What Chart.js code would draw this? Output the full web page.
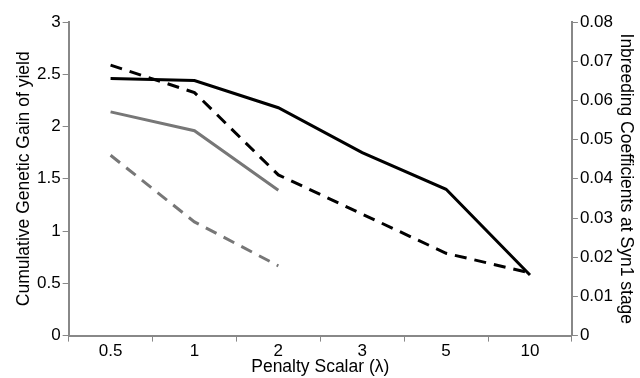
<!DOCTYPE html>
<html>
<head>
<meta charset="utf-8">
<style>
  html, body { margin: 0; padding: 0; background: #fff; }
  #wrap { width: 640px; height: 378px; }
</style>
</head>
<body>
<div id="wrap"><canvas id="myChart" width="640" height="378"></canvas></div>
<script src="https://cdn.jsdelivr.net/npm/chart.js"></script>
<script>
const categories = ['0.5', '1', '2', '3', '5', '10']
const gainBlack = [2.46, 2.44, 2.18, 1.75, 1.40, 0.58]
const inbreedBlack = [0.069, 0.062, 0.041, 0.031, 0.021, 0.016]
const gainGray = [2.14, 1.96, 1.39, null, null, null]
const inbreedGray = [0.046, 0.029, 0.0178, null, null, null]

const axisGray = '#888888'
const tickFont = {family: 'Liberation Sans', size: 17}
const titleFont = {family: 'Liberation Sans', size: 17.5}

const config = {
  type: 'line',
  data: {
    labels: categories,
    datasets: [
      {label: 'gain black', data: gainBlack, borderColor: '#000', borderWidth: 3, yAxisID: 'y'},
      {label: 'inbreeding black', data: inbreedBlack, borderColor: '#000', borderWidth: 3, borderDash: [12, 8], yAxisID: 'y1'},
      {label: 'gain gray', data: gainGray, borderColor: '#777', borderWidth: 3, yAxisID: 'y'},
      {label: 'inbreeding gray', data: inbreedGray, borderColor: '#777', borderWidth: 3, borderDash: [12, 8], yAxisID: 'y1'}
    ]
  },
  options: {
    responsive: false,
    animation: false,
    layout: {padding: {top: 22, right: 4, left: 14, bottom: 0}},
    elements: {point: {radius: 0}, line: {tension: 0}},
    plugins: {legend: {display: false}, tooltip: {enabled: false}},
    scales: {
      x: {
        offset: true,
        grid: {offset: true, drawOnChartArea: false, tickLength: 6, color: axisGray},
        border: {color: axisGray, width: 2},
        ticks: {color: '#000', font: tickFont, padding: 0},
        title: {display: true, text: 'Penalty Scalar (λ)', color: '#000', font: titleFont, padding: {top: -5, bottom: 0}}
      },
      y: {
        position: 'left',
        min: 0, max: 3,
        grid: {drawOnChartArea: false, tickLength: 6, color: axisGray},
        border: {color: axisGray, width: 2},
        ticks: {stepSize: 0.5, color: '#000', font: tickFont, padding: 2,
          callback: v => String(v)},
        title: {display: true, text: 'Cumulative Genetic Gain of yield', color: '#000', font: titleFont, padding: 0}
      },
      y1: {
        position: 'right',
        min: 0, max: 0.08,
        grid: {drawOnChartArea: false, tickLength: 6, color: axisGray},
        border: {color: axisGray, width: 2},
        ticks: {stepSize: 0.01, color: '#000', font: tickFont, padding: 2,
          callback: v => String(Math.round(v * 100) / 100)},
        title: {display: true, text: 'Inbreeding Coefficients at Syn1 stage', color: '#000', font: titleFont, padding: 0}
      }
    }
  }
}

new Chart(document.getElementById('myChart'), config)
</script>
</body>
</html>
